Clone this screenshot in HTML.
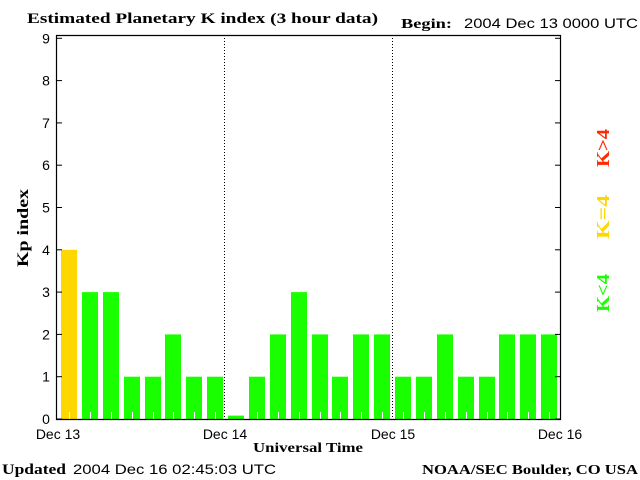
<!DOCTYPE html>
<html><head><meta charset="utf-8"><style>
html,body{margin:0;padding:0;background:#fff;}
svg{display:block;}
.s{font-family:"Liberation Sans",sans-serif;font-size:14px;fill:#000;}
.b{font-family:"Liberation Serif",serif;font-weight:bold;font-size:15px;fill:#000;}
</style></head><body>
<svg width="640" height="480" viewBox="0 0 640 480" xmlns="http://www.w3.org/2000/svg">
<rect width="640" height="480" fill="#fff"/>
<text x="27" y="23" class="b" textLength="351" lengthAdjust="spacingAndGlyphs">Estimated Planetary K index (3 hour data)</text>
<text x="401" y="28" class="b" style="font-size:14px" textLength="51" lengthAdjust="spacingAndGlyphs">Begin:</text>
<text x="464" y="28" class="s" textLength="174" lengthAdjust="spacingAndGlyphs">2004 Dec 13 0000 UTC</text>
<g id="bars"></g>
<line x1="224.5" y1="35" x2="224.5" y2="419" stroke="#000" stroke-dasharray="1,2"/>
<line x1="392.5" y1="35" x2="392.5" y2="419" stroke="#000" stroke-dasharray="1,2"/>
<path d="M56.5 35 V419.5 H560.5 V35 M56 35.5 H561" fill="none" stroke="#000" stroke-width="1.2"/>
<g id="ticks" stroke="#000"></g>
<g id="yl"></g>
<text x="58" y="439" class="s" text-anchor="middle">Dec 13</text>
<text x="225" y="439" class="s" text-anchor="middle">Dec 14</text>
<text x="393" y="439" class="s" text-anchor="middle">Dec 15</text>
<text x="560" y="439" class="s" text-anchor="middle">Dec 16</text>
<text x="253" y="452" class="b" style="font-size:14px" textLength="110" lengthAdjust="spacingAndGlyphs">Universal Time</text>
<text x="28" y="228" class="b" text-anchor="middle" transform="rotate(-90 28 228)" textLength="78" lengthAdjust="spacingAndGlyphs" style="font-size:16px">Kp index</text>
<text x="609" y="293" class="b" style="font-size:18px;fill:#1aff00" text-anchor="middle" transform="rotate(-90 609 293)" textLength="38" lengthAdjust="spacingAndGlyphs">K&lt;4</text>
<text x="609" y="217" class="b" style="font-size:18px;fill:#ffd700" text-anchor="middle" transform="rotate(-90 609 217)" textLength="44" lengthAdjust="spacingAndGlyphs">K=4</text>
<text x="609" y="148" class="b" style="font-size:18px;fill:#ff2a00" text-anchor="middle" transform="rotate(-90 609 148)" textLength="38" lengthAdjust="spacingAndGlyphs">K&gt;4</text>
<text x="2" y="474" class="b" textLength="64" lengthAdjust="spacingAndGlyphs">Updated</text>
<text x="73" y="474" class="s" textLength="203" lengthAdjust="spacingAndGlyphs">2004 Dec 16 02:45:03 UTC</text>
<text x="422" y="474" class="b" style="font-size:14px" textLength="216" lengthAdjust="spacingAndGlyphs">NOAA/SEC Boulder, CO USA</text>
</svg>
<script>
var v=[4,3,3,1,1,2,1,1,0.08,1,2,3,2,1,2,2,1,1,2,1,1,2,2,2];
var ns="http://www.w3.org/2000/svg",g=document.getElementById("bars");
function el(p,t,a){var e=document.createElementNS(ns,t);for(var k in a)e.setAttribute(k,a[k]);p.appendChild(e);return e;}
v.forEach(function(k,i){var h=k*42.3,x=Math.round(61+20.875*i);
el(g,"rect",{x:x,y:419-h,width:16,height:h,fill:k>=4?(k>4?"#ff2a00":"#ffd700"):"#1aff00"});
if(h>8)el(g,"line",{x1:x+8.5,y1:412,x2:x+8.5,y2:419,stroke:"#fff"});});
var t=document.getElementById("ticks"),yl=document.getElementById("yl");
for(var n=0;n<=9;n++){var y=419-42.3*n;
el(t,"line",{x1:56,y1:y,x2:62,y2:y});el(t,"line",{x1:555,y1:y,x2:561,y2:y});
var tx=el(yl,"text",{x:46,y:y+5,"class":"s","text-anchor":"middle"});tx.textContent=n;}
</script>
</body></html>
